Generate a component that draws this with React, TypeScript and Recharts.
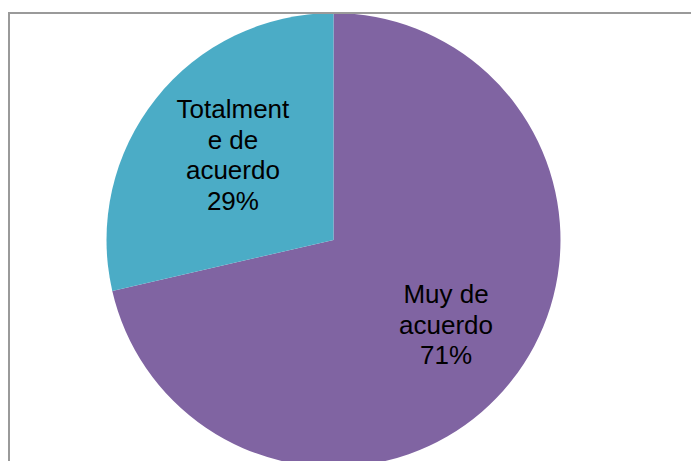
import { PieChart, Pie, Cell } from "recharts";

const categories = ["Muy de acuerdo", "Totalmente de acuerdo"];
// labels show the rounded percentages
const shares = [71.4, 28.6];
const colors = ["#8064A2", "#4BACC6"];

const data = categories.map((name, i) => ({ name, value: shares[i] }));

// Excel-style wrap: greedy by characters, breaking words that are too long
function wrap(text: string, max: number) {
  const lines: string[] = [];
  let cur = "";
  for (const w of text.split(" ")) {
    let word = w;
    const cand = cur ? cur + " " + word : word;
    if (cand.length <= max) {
      cur = cand;
      continue;
    }
    if (cur) lines.push(cur);
    while (word.length > max) {
      lines.push(word.slice(0, max));
      word = word.slice(max);
    }
    cur = word;
  }
  if (cur) lines.push(cur);
  return lines;
}

const RAD = Math.PI / 180;
const lh = 30.5;

function renderLabel(p: any) {
  const { cx, cy, midAngle, outerRadius, name, value } = p;
  const r = outerRadius * 0.6;
  const x = cx + r * Math.cos(-midAngle * RAD) + 6;
  const y = cy + r * Math.sin(-midAngle * RAD);
  const lines = [...wrap(name, 9), `${Math.round(value)}%`];
  const y0 = y - ((lines.length - 1) * lh) / 2;
  return (
    <text x={x} y={y0} textAnchor="middle" dominantBaseline="central" fill="#000" fontSize={26} fontFamily="'Liberation Sans', Arial, sans-serif">
      {lines.map((l, i) => (
        <tspan key={i} x={x} y={y0 + i * lh}>{l}</tspan>
      ))}
    </text>
  );
}

export default function App() {
  return (
    <div style={{ position: "fixed", left: 0, top: 0, width: 691, height: 461, background: "#fff", overflow: "hidden" }}>
      <PieChart width={691} height={461} margin={{ top: 0, right: 0, bottom: 0, left: 0 }}>
        <Pie
          data={data}
          dataKey="value"
          nameKey="name"
          cx={333.5}
          cy={240}
          outerRadius={227}
          startAngle={90}
          endAngle={-270}
          stroke="none"
          label={renderLabel}
          labelLine={false}
          isAnimationActive={false}
        >
          {data.map((d, i) => (
            <Cell key={d.name} fill={colors[i]} />
          ))}
        </Pie>
      </PieChart>
      <div style={{ position: "absolute", left: 8, top: 12, width: 720, height: 520, border: "2px solid #9a9a9a", boxSizing: "border-box", pointerEvents: "none" }} />
    </div>
  );
}
